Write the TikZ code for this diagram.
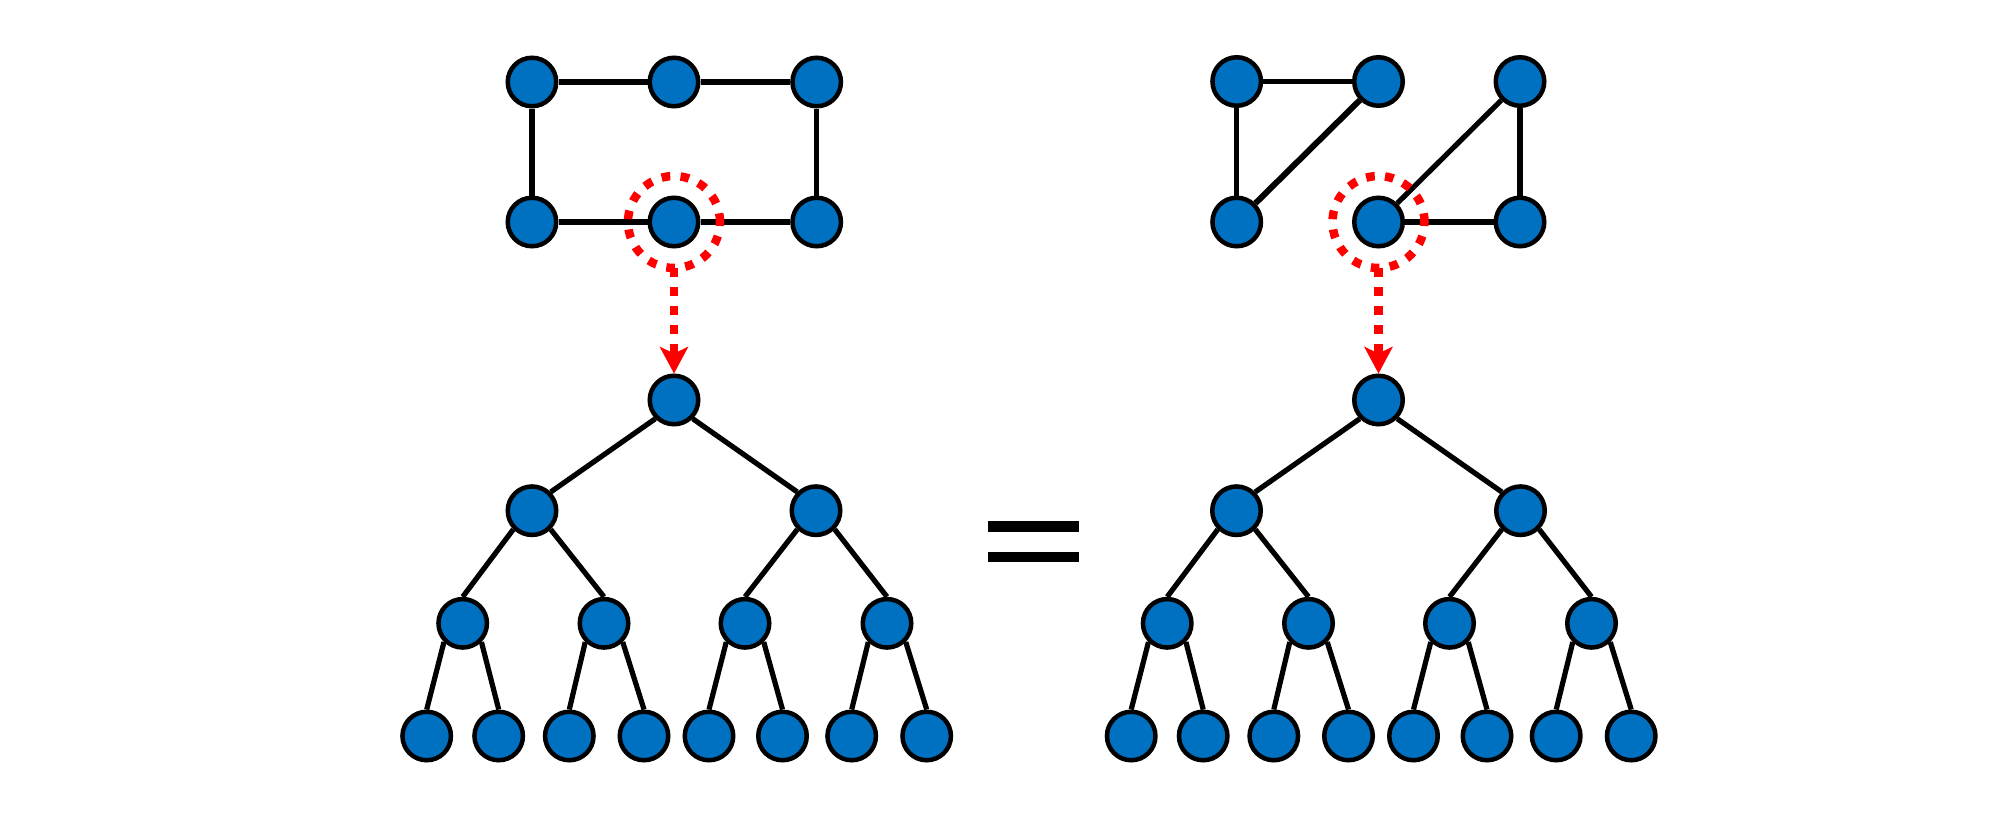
\documentclass[tikz,border=0pt]{standalone}
\usetikzlibrary{arrows.meta}
\definecolor{nodeblue}{HTML}{0070C0}
\begin{document}
\begin{tikzpicture}[x=1pt,y=-1pt,
  vtx/.style={circle,draw=black,fill=nodeblue,line width=4.5pt,minimum size=48.5pt,inner sep=0pt},
  edge/.style={line width=5.2pt,draw=black},
  selring/.style={circle,draw=red,line width=8.5pt,dash pattern=on 8.7pt off 10.3pt,minimum size=92pt,inner sep=0pt},
  selshaft/.style={draw=red,line width=8.5pt,dash pattern=on 8.7pt off 10.3pt},
  selhead/.style={draw=red,line width=8.5pt,-{Stealth[length=27pt,width=29pt,inset=7pt,line width=0pt]}},
  eqbar/.style={fill=black,draw=none}
]
\useasboundingbox (0,0) rectangle (1999,819);

% ---- left top graph
\node[vtx] (Ltl) at (532,82) {};
\node[vtx] (Ltm) at (674,82) {};
\node[vtx] (Ltr) at (816.7,82) {};
\node[vtx] (Lbl) at (532,222) {};
\node[vtx] (Lbm) at (674,222) {};
\node[vtx] (Lbr) at (816.7,222) {};
\draw[edge] (Ltl) -- (Ltm);
\draw[edge] (Ltm) -- (Ltr);
\draw[edge] (Ltl) -- (Lbl);
\draw[edge] (Ltr) -- (Lbr);
\draw[edge] (Lbl) -- (Lbm);
\draw[edge] (Lbm) -- (Lbr);

% ---- right top graph
\node[vtx] (Rtl) at (1236.7,81.5) {};
\node[vtx] (Rtm) at (1378.5,81.5) {};
\node[vtx] (Rtr) at (1520,81.5) {};
\node[vtx] (Rbl) at (1236.7,222) {};
\node[vtx] (Rbm) at (1378.5,222) {};
\node[vtx] (Rbr) at (1520,222) {};
\draw[edge] (Rtl) -- (Rtm);
\draw[edge] (Rtl) -- (Rbl);
\draw[edge,line width=6pt] (Rtm.south west) -- (Rbl.north east);
\draw[edge] (Rtr.south west) -- (Rbm.north east);
\draw[edge] (Rtr) -- (Rbr);
\draw[edge] (Rbm) -- (Rbr);

% ---- trees
\foreach \p/\dx in {L/0,R/704.5} {
  \begin{scope}[xshift=\dx pt]
    \node[vtx] (\p r) at (674,400) {};
    \node[vtx] (\p a) at (532,510.7) {};
    \node[vtx] (\p b) at (816,510.7) {};
    \node[vtx] (\p aa) at (462.7,623.3) {};
    \node[vtx] (\p ab) at (604,623.3) {};
    \node[vtx] (\p ba) at (745,623.3) {};
    \node[vtx] (\p bb) at (887,623.3) {};
    \node[vtx] (\p aaa) at (426.7,736) {};
    \node[vtx] (\p aab) at (498.7,736) {};
    \node[vtx] (\p aba) at (569.3,736) {};
    \node[vtx] (\p abb) at (644,736) {};
    \node[vtx] (\p baa) at (709,736) {};
    \node[vtx] (\p bab) at (782.5,736) {};
    \node[vtx] (\p bba) at (851.7,736) {};
    \node[vtx] (\p bbb) at (926.7,736) {};
  \end{scope}
  \draw[edge] (\p r.south west) -- (\p a.north east);
  \draw[edge] (\p r.south east) -- (\p b.north west);
  \draw[edge] (\p a.south west) -- (\p aa.north);
  \draw[edge] (\p a.south east) -- (\p ab.north);
  \draw[edge] (\p b.south west) -- (\p ba.north);
  \draw[edge] (\p b.south east) -- (\p bb.north);
  \draw[edge] (\p aa.south west) -- (\p aaa.north);
  \draw[edge] (\p aa.south east) -- (\p aab.north);
  \draw[edge] (\p ab.south west) -- (\p aba.north);
  \draw[edge] (\p ab.south east) -- (\p abb.north);
  \draw[edge] (\p ba.south west) -- (\p baa.north);
  \draw[edge] (\p ba.south east) -- (\p bab.north);
  \draw[edge] (\p bb.south west) -- (\p bba.north);
  \draw[edge] (\p bb.south east) -- (\p bbb.north);
  \node[selring] (\p sel) at (\p bm) {};
  \coordinate (\p hb) at ([yshift=30pt]\p r.north);
  \draw[selshaft] ([yshift=4pt]\p sel.south) -- (\p hb);
  \draw[selhead] (\p hb) -- (\p r.north);
}

% ---- equals sign
\node[eqbar,rectangle,minimum width=91pt,minimum height=10.4pt,inner sep=0pt] (eqtop) at (1033.8,526.5) {};
\node[eqbar,rectangle,minimum width=91pt,minimum height=10.4pt,inner sep=0pt] (eqbot) at (1033.8,556.8) {};
\end{tikzpicture}
\end{document}
